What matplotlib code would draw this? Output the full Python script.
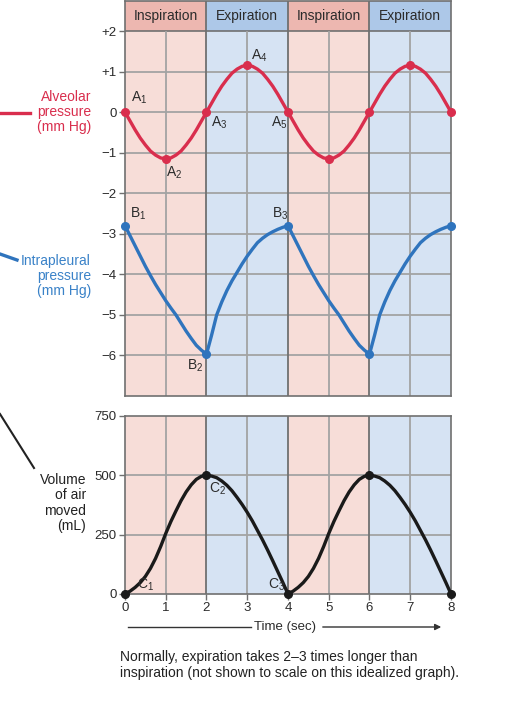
import matplotlib.pyplot as plt
from matplotlib.patches import FancyArrowPatch

plt.rcParams['font.family'] = ['Liberation Sans', 'DejaVu Sans']
plt.rcParams['mathtext.default'] = 'regular'

# time points (sec), read every 0.125 s
time = [i / 8 for i in range(65)]

# alveolar pressure (mm Hg)
alveolar = [0, -0.22, -0.44, -0.64, -0.81, -0.96, -1.06, -1.13, -1.15, -1.13, -1.06, -0.96, -0.81, -0.64, -0.44, -0.22,
            0, 0.22, 0.44, 0.64, 0.81, 0.96, 1.06, 1.13, 1.15, 1.13, 1.06, 0.96, 0.81, 0.64, 0.44, 0.22,
            0, -0.22, -0.44, -0.64, -0.81, -0.96, -1.06, -1.13, -1.15, -1.13, -1.06, -0.96, -0.81, -0.64, -0.44, -0.22,
            0, 0.22, 0.44, 0.64, 0.81, 0.96, 1.06, 1.13, 1.15, 1.13, 1.06, 0.96, 0.81, 0.64, 0.44, 0.22, 0]

# intrapleural pressure (mm Hg)
intrapleural = [-2.8, -3.05, -3.3, -3.55, -3.8, -4.03, -4.25, -4.45, -4.65, -4.83, -5.0, -5.2, -5.4, -5.58, -5.75, -5.87,
                -5.97, -5.5, -5.0, -4.68, -4.4, -4.16, -3.95, -3.74, -3.55, -3.38, -3.22, -3.11, -3.02, -2.95, -2.89, -2.84,
                -2.8, -3.05, -3.3, -3.55, -3.8, -4.03, -4.25, -4.45, -4.65, -4.83, -5.0, -5.2, -5.4, -5.58, -5.75, -5.87,
                -5.97, -5.5, -5.0, -4.68, -4.4, -4.16, -3.95, -3.74, -3.55, -3.38, -3.22, -3.11, -3.02, -2.95, -2.89, -2.84, -2.8]

# volume of air moved (mL)
volume = [0, 12, 28, 48, 74, 108, 150, 200, 255, 305, 350, 393, 430, 460, 483, 496,
          500, 497, 490, 476, 458, 435, 407, 377, 344, 308, 268, 228, 185, 140, 94, 48,
          0, 12, 28, 48, 74, 108, 150, 200, 255, 305, 350, 393, 430, 460, 483, 496,
          500, 497, 490, 476, 458, 435, 407, 377, 344, 308, 268, 228, 185, 140, 94, 48, 0]

alv_marks_t = [0, 1, 2, 3, 4, 5, 6, 7, 8]
alv_marks_v = [0, -1.15, 0, 1.15, 0, -1.15, 0, 1.15, 0]
ip_marks_t = [0, 2, 4, 6, 8]
ip_marks_v = [-2.8, -5.97, -2.8, -5.97, -2.8]
vol_marks_t = [0, 2, 4, 6, 8]
vol_marks_v = [0, 500, 0, 500, 0]

phases = ['Inspiration', 'Expiration', 'Inspiration', 'Expiration']

RED = '#d92e4d'
BLUE = '#2f74bd'
PINK_BG = '#f7ddd8'
BLUE_BG = '#d6e3f3'
PINK_HD = '#edb7b0'
BLUE_HD = '#adc8e8'
GRID = '#a3a3a3'
FRAME = '#707070'
TXT = '#2b2b2b'

fig = plt.figure(figsize=(5.1, 7.28), dpi=100)

# ---------- pressure panel ----------
ax = fig.add_axes([125/510, 1-396/728, 326/510, 395/728])
head_top = 2.74
ax.set_xlim(0, 8)
ax.set_ylim(-7, head_top)
for i, name in enumerate(phases):
    bg = PINK_BG if i % 2 == 0 else BLUE_BG
    hd = PINK_HD if i % 2 == 0 else BLUE_HD
    ax.axvspan(2*i, 2*i+2, ymin=0, ymax=9/(head_top+7), color=bg, lw=0, zorder=0)
    ax.fill_between([2*i, 2*i+2], 2, head_top, color=hd, lw=0, zorder=0)
    ax.text(2*i+1, (2+head_top)/2, name, ha='center', va='center', fontsize=10, color=TXT)
ax.hlines(range(-6, 2), 0, 8, color=GRID, lw=1.3, zorder=1)
ax.hlines(2, 0, 8, color=FRAME, lw=1.2, zorder=1)
ax.vlines([1, 3, 5, 7], -7, 2, color=GRID, lw=1.3, zorder=1)
ax.vlines([2, 4, 6], -7, head_top, color=FRAME, lw=1.3, zorder=1)

ax.plot(time, alveolar, color=RED, lw=2.4, zorder=3, solid_joinstyle='round')
ax.plot(alv_marks_t, alv_marks_v, 'o', color=RED, ms=5.5, zorder=4, clip_on=False)
ax.plot(time, intrapleural, color=BLUE, lw=2.4, zorder=3, solid_joinstyle='round')
ax.plot(ip_marks_t, ip_marks_v, 'o', color=BLUE, ms=5.5, zorder=4, clip_on=False)

lab = dict(fontsize=10, color=TXT, zorder=5)
ax.text(0.15, 0.15, 'A$_1$', ha='left', va='bottom', **lab)
ax.text(1.0, -1.3, 'A$_2$', ha='left', va='top', **lab)
ax.text(2.1, -0.05, 'A$_3$', ha='left', va='top', **lab)
ax.text(3.08, 1.18, 'A$_4$', ha='left', va='bottom', **lab)
ax.text(3.98, -0.05, 'A$_5$', ha='right', va='top', **lab)
ax.text(0.12, -2.72, 'B$_1$', ha='left', va='bottom', **lab)
ax.text(1.72, -6.05, 'B$_2$', ha='center', va='top', **lab)
ax.text(3.8, -2.72, 'B$_3$', ha='center', va='bottom', **lab)

ax.set_yticks([2, 1, 0, -1, -2, -3, -4, -5, -6])
ax.set_yticklabels(['+2', '+1', '0', '\u22121', '\u22122', '\u22123', '\u22124', '\u22125', '\u22126'])
ax.set_xticks([])
ax.tick_params(axis='y', length=4, width=1, color=FRAME, labelsize=9.5, labelcolor=TXT, pad=2)
for s in ax.spines.values():
    s.set_color(FRAME)
    s.set_linewidth(1.2)

# ---------- volume panel ----------
bx = fig.add_axes([125/510, 1-594/728, 326/510, 178/728])
bx.set_xlim(0, 8)
bx.set_ylim(0, 750)
for i in range(4):
    bx.axvspan(2*i, 2*i+2, color=PINK_BG if i % 2 == 0 else BLUE_BG, lw=0, zorder=0)
bx.hlines([250, 500], 0, 8, color=GRID, lw=1.3, zorder=1)
bx.vlines([1, 3, 5, 7], 0, 750, color=GRID, lw=1.3, zorder=1)
bx.vlines([2, 4, 6], 0, 750, color=FRAME, lw=1.3, zorder=1)
bx.plot(time, volume, color='#1a1a1a', lw=2.4, zorder=3, solid_joinstyle='round')
bx.plot(vol_marks_t, vol_marks_v, 'o', color='#1a1a1a', ms=5.5, zorder=4, clip_on=False)
bx.text(0.3, 6, 'C$_1$', ha='left', va='bottom', **lab)
bx.text(2.05, 478, 'C$_2$', ha='left', va='top', **lab)
bx.text(3.93, 6, 'C$_3$', ha='right', va='bottom', **lab)

bx.set_yticks([0, 250, 500, 750])
bx.set_xticks(range(9))
bx.tick_params(axis='both', length=4, width=1, color=FRAME, labelsize=9.5, labelcolor=TXT, pad=2)
for s in bx.spines.values():
    s.set_color(FRAME)
    s.set_linewidth(1.2)

# ---------- side labels ----------
fig.text(91/510, 1-112/728, 'Alveolar\npressure\n(mm Hg)', ha='right', va='center',
         fontsize=10, color=RED, linespacing=1.1)
fig.add_artist(plt.Line2D([0, 30/510], [1-113/728, 1-113/728], color=RED, lw=2.4))
fig.text(91/510, 1-276/728, 'Intrapleural\npressure\n(mm Hg)', ha='right', va='center',
         fontsize=10, color='#3a82c8', linespacing=1.1)
fig.add_artist(plt.Line2D([0, 17/510], [1-254/728, 1-260/728], color=BLUE, lw=2.4))
fig.text(86/510, 1-503/728, 'Volume\nof air\nmoved\n(mL)', ha='right', va='center',
         fontsize=10, color='#222222', linespacing=1.1)
fig.add_artist(plt.Line2D([0, 34/510], [1-414/728, 1-468/728], color='#222222', lw=1.5))

# time arrow
ty = 1 - 627/728
fig.text(285/510, ty, 'Time (sec)', ha='center', va='center', fontsize=9.5, color=TXT)
fig.add_artist(plt.Line2D([128/510, 251/510], [ty, ty], color='#333333', lw=1))
fig.patches.append(FancyArrowPatch(
    (320/510, ty), (444/510, ty), transform=fig.transFigure, arrowstyle='-|>',
    mutation_scale=9, color='#333333', lw=1))

fig.text(120/510, 1-665/728, 'Normally, expiration takes 2\u20133 times longer than\n'
         'inspiration (not shown to scale on this idealized graph).',
         ha='left', va='center', fontsize=10, color='#222222', linespacing=1.15)

fig.savefig('out.png', dpi=100, facecolor='white')
